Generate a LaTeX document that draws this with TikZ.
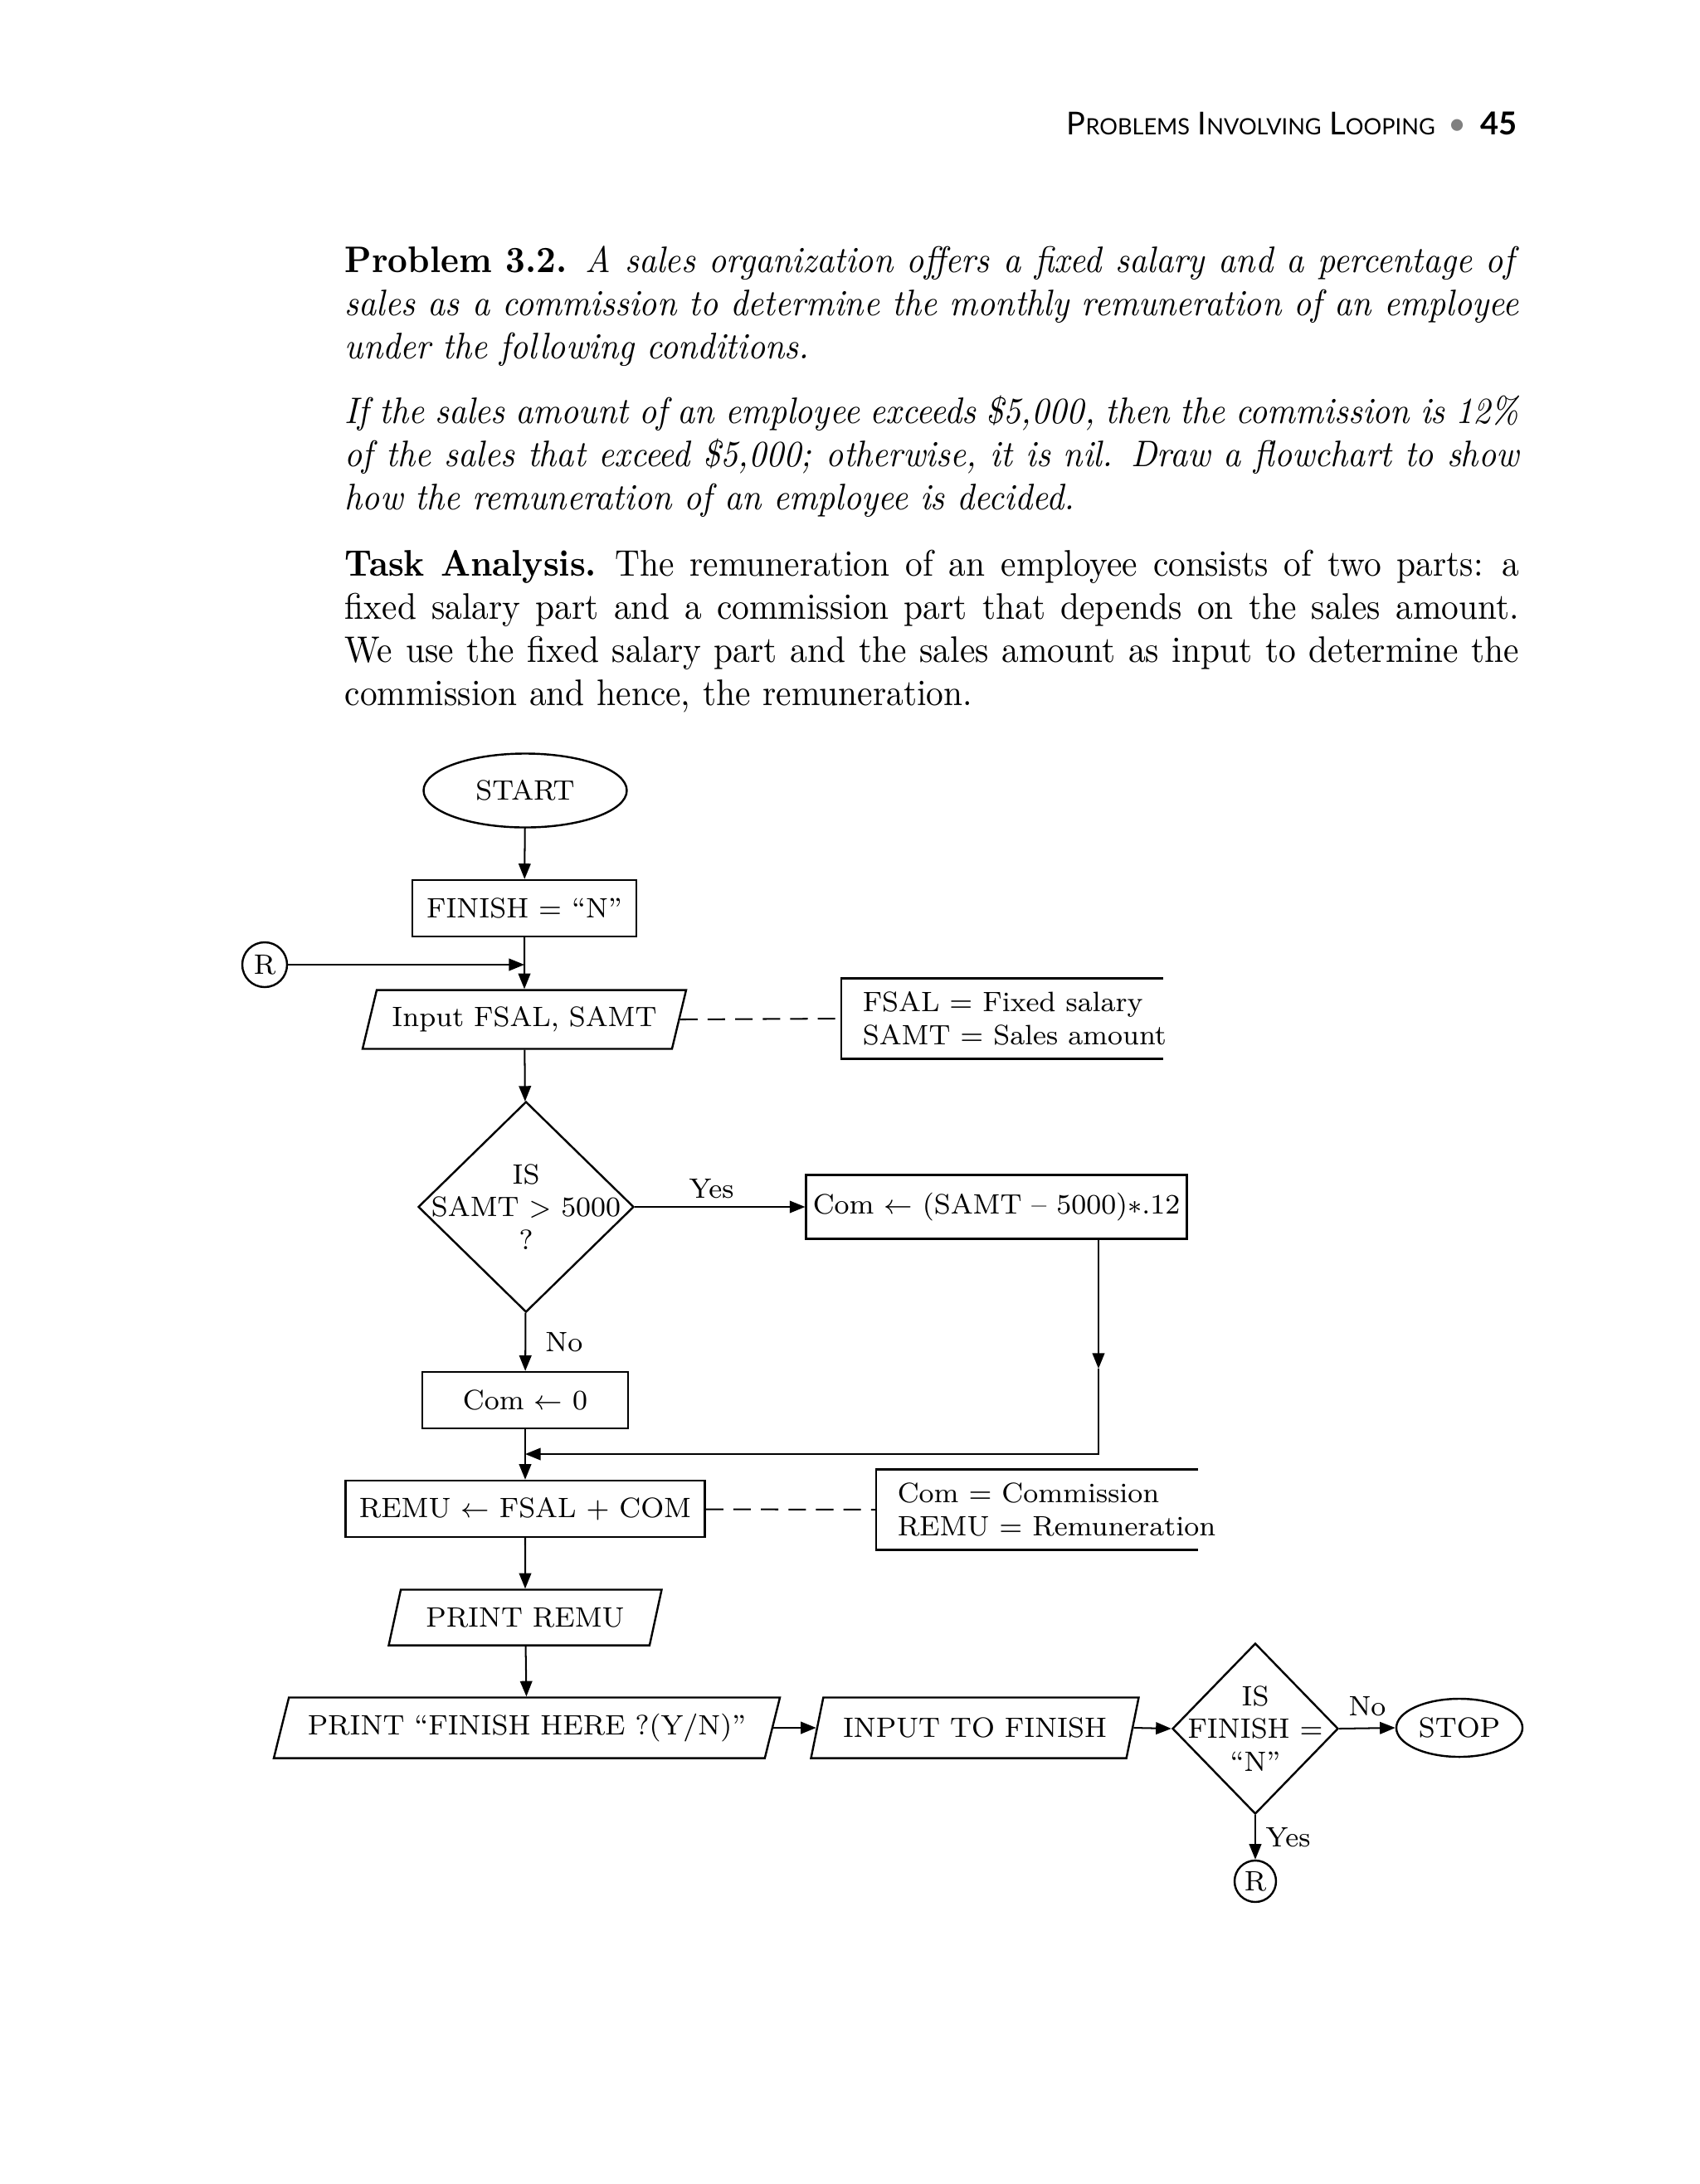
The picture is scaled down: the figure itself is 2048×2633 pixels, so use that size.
\documentclass[tikz,border=0pt]{standalone}
\usepackage{fontspec}
\usetikzlibrary{arrows.meta,positioning,shapes.geometric,calc}
\newfontfamily\headfont{Lato}
\newfontfamily\bodyfamily{Latin Modern Roman}[FakeStretch=0.93]
\newcommand\flowfont{\fontsize{8.35}{9.85}\selectfont}
\newcommand\bodyfont{\bodyfamily\fontsize{11}{12.85}\selectfont}
\newcommand\hsc[1]{{\fontsize{6.7}{8}\selectfont #1}}
\newcommand\jline[1]{\leavevmode\hbox to 12.285cm{\spaceskip=0.3em plus 0.6em minus 0.12em\relax #1}}
\tikzset{
  para/.style={
    text width=12.285cm, align=left, inner sep=0pt, font=\bodyfont
  },
  process/.style={
    draw, line width=0.6pt, inner sep=2pt, align=center, font=\flowfont
  },
  io/.style={
    trapezium, trapezium left angle=70, trapezium right angle=110,
    trapezium stretches body, draw, line width=0.6pt,
    inner xsep=2pt, inner ysep=2pt, font=\flowfont
  },
  decision/.style={diamond, draw, line width=0.6pt, inner sep=0pt},
  terminal/.style={ellipse, draw, line width=0.6pt, inner sep=1pt, font=\flowfont},
  connector/.style={circle, draw, line width=0.6pt, inner sep=0pt, font=\flowfont},
  note/.style={
    align=left, inner xsep=0.217cm, inner ysep=0pt,
    minimum height=0.825cm, font=\flowfont
  },
  notebox/.style={line width=0.6pt},
  tag/.style={inner sep=0pt, font=\flowfont},
  arrow/.style={-{Triangle[length=4.6pt,width=3.6pt]}, line width=0.5pt},
  dashline/.style={dash pattern=on 5.2pt off 3pt, line width=0.5pt}
}

\begin{document}
\begin{tikzpicture}[x=0.0086817cm, y=-0.0086817cm]
  \path[use as bounding box, fill=white] (0,0) rectangle (2048,2633);

  % running head
  \node[anchor=base east, inner sep=0pt] (runhead) at (1829,162)
    {\headfont\fontsize{9.4}{11}\selectfont P\hsc{ROBLEMS} I\hsc{NVOLVING} L\hsc{OOPING}
     \,{\color{gray}•}\, \textbf{45}};

  % problem text
  \node[para, anchor=base west] (problem) at (415,328)
    {\jline{\textbf{Problem 3.2.} \textit{A sales organization offers a fixed salary and a percentage of}}\\
     \jline{\textit{sales as a commission to determine the monthly remuneration of an employee}}\\
     \textit{under the following conditions.}};
  \node[para, anchor=base west] (rule) at (415,510)
    {\itshape\jline{If the sales amount of an employee exceeds \$5,000, then the commission is 12\%}\\
     \jline{of the sales that exceed \$5,000; otherwise, it is nil. Draw a flowchart to show}\\
     how the remuneration of an employee is decided.};
  \node[para, anchor=base west] (analysis) at (415,694)
    {\jline{\textbf{Task Analysis.} The remuneration of an employee consists of two parts: a}\\
     \jline{fixed salary part and a commission part that depends on the sales amount.}\\
     \jline{We use the fixed salary part and the sales amount as input to determine the}\\
     commission and hence, the remuneration.};

  % flowchart
  \node[terminal, minimum width=2.127cm, minimum height=0.773cm] (start) at (633,953) {START};
  \node[process, minimum width=2.344cm, minimum height=0.590cm] (init) at (632,1095) {FINISH = “N”};
  \node[connector, minimum size=0.469cm] (rin) at (319,1163) {R};
  \node[io, minimum width=3.386cm, minimum height=0.616cm] (input) at (632,1229) {Input FSAL, SAMT};
  \node[note, anchor=west] (defs) at (1014,1228) {FSAL = Fixed salary\\SAMT = Sales amount};
  \node[decision, minimum width=2.257cm, minimum height=2.205cm,
        label={[tag, align=center]center:IS\\SAMT $>$ 5000\\?}] (samt) at (634,1455) {};
  \node[process, minimum width=3.976cm, minimum height=0.668cm] (comyes) at (1201,1455)
    {Com $\leftarrow$ (SAMT – 5000)$\ast$.12};
  \node[process, minimum width=2.153cm, minimum height=0.590cm] (comno) at (633,1688) {Com $\leftarrow$ 0};
  \node[process, minimum width=3.759cm, minimum height=0.590cm] (remu) at (633,1819) {REMU $\leftarrow$ FSAL + COM};
  \node[note, anchor=west] (terms) at (1056,1820) {Com = Commission\\REMU = Remuneration};
  \node[io, minimum width=2.856cm, minimum height=0.582cm] (show) at (633,1950) {PRINT REMU};
  \node[io, minimum width=5.296cm, minimum height=0.634cm] (ask) at (635,2083) {PRINT “FINISH HERE ?(Y/N)”};
  \node[io, minimum width=3.429cm, minimum height=0.634cm] (reply) at (1175,2083) {INPUT TO FINISH};
  \node[decision, minimum width=1.736cm, minimum height=1.788cm,
        label={[tag, align=center]center:IS\\FINISH =\\“N”}] (again) at (1513,2084) {};
  \node[terminal, minimum width=1.320cm, minimum height=0.608cm] (stop) at (1759,2083) {STOP};
  \node[connector, minimum size=0.434cm] (rout) at (1513,2268) {R};

  \coordinate (drop) at (1324,1650);
  \coordinate (merge) at (633,1753);

  % open boxes of the notes
  \draw[notebox] (defs.north west) ++(388,0) -- (defs.north west) -- (defs.south west) -- ++(388,0);
  \draw[notebox] (terms.north west) ++(388,0) -- (terms.north west) -- (terms.south west) -- ++(388,0);

  \draw[arrow] (start) -- (init);
  \draw[arrow] (init) -- (input);
  \draw[arrow] (rin) -- (rin -| input.north);
  \draw[dashline] (input.east) -- (defs.west);
  \draw[arrow] (input) -- (samt);
  \draw[arrow] (samt) -- node[tag, above=0.08cm, pos=0.45] {Yes} (comyes);
  \draw[arrow] (samt) -- node[tag, right=0.2cm] {No} (comno);
  \draw[arrow] (comyes.south -| drop) -- (drop);
  \draw[arrow] (drop) |- (merge);
  \draw[arrow] (comno) -- (remu);
  \draw[dashline] (remu) -- (terms.west);
  \draw[arrow] (remu) -- (show);
  \draw[arrow] (show) -- (ask);
  \draw[arrow] (ask.east) -- (reply.west);
  \draw[arrow] (reply.east) -- (again.west);
  \draw[arrow] (again.east) -- node[tag, above=0.12cm] {No} (stop.west);
  \draw[arrow] (again.south) -- node[tag, right=0.1cm] {Yes} (rout.north);
\end{tikzpicture}
\end{document}
